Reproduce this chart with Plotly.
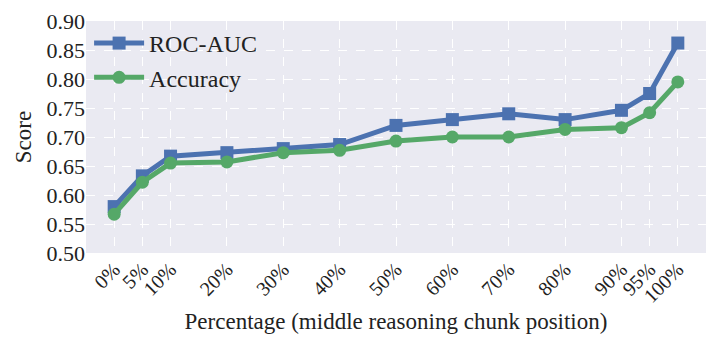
import plotly.graph_objects as go

positions = [0, 5, 10, 20, 30, 40, 50, 60, 70, 80, 90, 95, 100]
tick_labels = ["0%", "5%", "10%", "20%", "30%", "40%", "50%", "60%", "70%", "80%", "90%", "95%", "100%"]
roc_auc = [0.580, 0.633, 0.667, 0.673, 0.680, 0.687, 0.720, 0.730, 0.740, 0.730, 0.746, 0.775, 0.862]
accuracy = [0.567, 0.622, 0.655, 0.657, 0.673, 0.677, 0.693, 0.700, 0.700, 0.713, 0.716, 0.742, 0.795]

font_family = "Liberation Serif, DejaVu Serif, serif"

fig = go.Figure()
fig.add_trace(go.Scatter(
    x=positions, y=roc_auc, name="ROC-AUC", mode="lines+markers",
    line=dict(color="#4C72B0", width=5),
    marker=dict(symbol="square", size=13, color="#4C72B0"),
))
fig.add_trace(go.Scatter(
    x=positions, y=accuracy, name="Accuracy", mode="lines+markers",
    line=dict(color="#55A868", width=5),
    marker=dict(symbol="circle", size=13, color="#55A868"),
))

# page body has an 8px default margin, so the figure is a bit smaller
fig.update_layout(
    width=707, height=346,
    margin=dict(l=78, r=9, t=13, b=101, autoexpand=False),
    paper_bgcolor="white",
    plot_bgcolor="#EAEAF2",
    font=dict(family=font_family, size=22, color="#222222"),
    showlegend=True,
    legend=dict(
        x=0.005, y=1.0, xanchor="left", yanchor="top",
        bgcolor="rgba(0,0,0,0)", font=dict(size=24),
        itemwidth=50, tracegroupgap=2,
    ),
    xaxis=dict(
        range=[-5, 105], automargin=False, ticklabeloverflow="allow",
        tickmode="array", tickvals=positions, ticktext=tick_labels,
        tickangle=-45, tickfont=dict(size=20),
        showgrid=True, gridcolor="white", griddash="dash", gridwidth=1,
        zeroline=False, showline=False,
        title=dict(text="Percentage (middle reasoning chunk position)", font=dict(size=23), standoff=6),
    ),
    yaxis=dict(
        range=[0.5, 0.9], automargin=False, ticklabeloverflow="allow",
        tickmode="array",
        tickvals=[0.5, 0.55, 0.6, 0.65, 0.7, 0.75, 0.8, 0.85, 0.9],
        tickformat=".2f", tickfont=dict(size=22),
        showgrid=True, gridcolor="white", griddash="dash", gridwidth=1,
        zeroline=False, showline=False,
        title=dict(text="Score", font=dict(size=23), standoff=8),
    ),
)

fig.write_html("out.html")
